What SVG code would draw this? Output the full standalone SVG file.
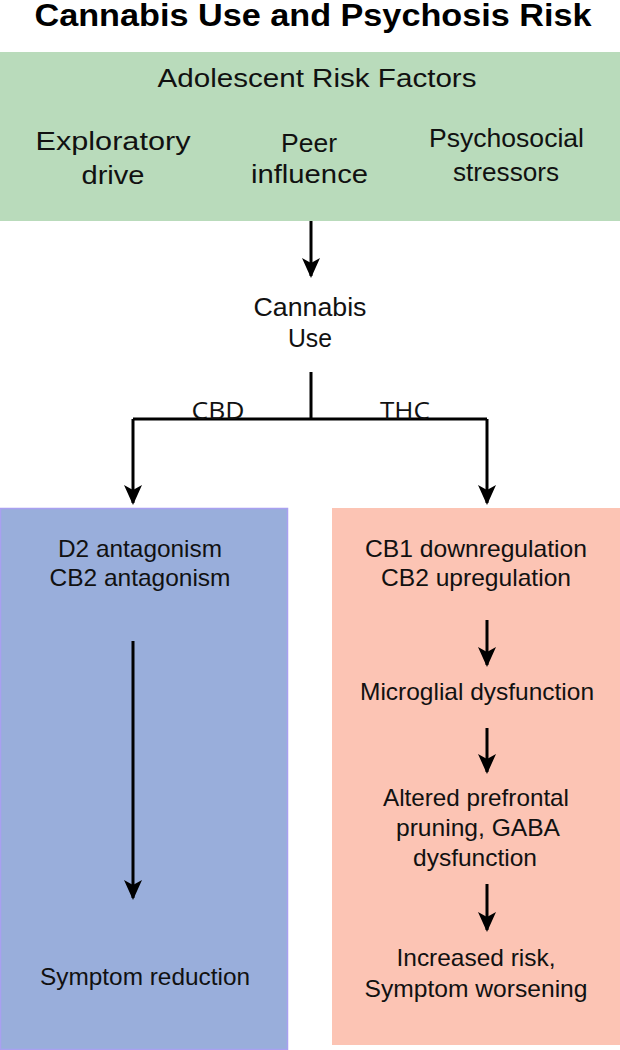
<svg xmlns="http://www.w3.org/2000/svg" width="620" height="1050" viewBox="0 0 620 1050">
<style>
.t{font-family:"Liberation Sans",Arial,sans-serif;font-size:24px;fill:#111;text-anchor:middle}
.h{font-size:25px}
.c{font-size:25px}
.lbl{font-family:"Open Sans","DejaVu Sans",sans-serif;font-size:23px;fill:#111;text-anchor:middle}
.ln{stroke:#000;stroke-width:3;fill:none}
</style>
<defs>
<marker id="ah" viewBox="0 0 20 20" refX="18" refY="10" markerWidth="20" markerHeight="20" markerUnits="userSpaceOnUse" orient="auto">
<path d="M0,1 L20,10 L0,19 L5,10 Z" fill="#000"/>
</marker>
</defs>
<rect width="620" height="1050" fill="#fff"/>
<text x="313" y="26" font-family="Liberation Sans,Arial,sans-serif" font-weight="bold" font-size="31" text-anchor="middle" fill="#000" textLength="557" lengthAdjust="spacingAndGlyphs">Cannabis Use and Psychosis Risk</text>
<g id="risk">
<rect x="0" y="52" width="620" height="169" fill="#b9dbbb"/>
<text class="t h" x="317" y="87" textLength="319" lengthAdjust="spacingAndGlyphs">Adolescent Risk Factors</text>
<text class="t h" x="113" y="150" textLength="155" lengthAdjust="spacingAndGlyphs">Exploratory</text>
<text class="t h" x="113" y="184" textLength="63" lengthAdjust="spacingAndGlyphs">drive</text>
<text class="t h" x="309" y="152" textLength="56" lengthAdjust="spacingAndGlyphs">Peer</text>
<text class="t h" x="309.5" y="183" textLength="117" lengthAdjust="spacingAndGlyphs">influence</text>
<text class="t h" x="506.5" y="147" textLength="155" lengthAdjust="spacingAndGlyphs">Psychosocial</text>
<text class="t h" x="506" y="181" textLength="106" lengthAdjust="spacingAndGlyphs">stressors</text>
</g>
<g id="cannabis">
<text class="t c" x="310" y="316" textLength="113" lengthAdjust="spacingAndGlyphs">Cannabis</text>
<text class="t c" x="310" y="347" textLength="44" lengthAdjust="spacingAndGlyphs">Use</text>
</g>
<g id="cbd">
<rect x="0.5" y="508.5" width="287" height="541" fill="#99aedb" stroke="#a9a0f0" stroke-width="1.5"/>
<text class="t" x="140" y="557" textLength="164" lengthAdjust="spacingAndGlyphs">D2 antagonism</text>
<text class="t" x="140" y="586" textLength="181" lengthAdjust="spacingAndGlyphs">CB2 antagonism</text>
<text class="t" x="145" y="985" textLength="210" lengthAdjust="spacingAndGlyphs">Symptom reduction</text>
</g>
<g id="thc">
<rect x="332" y="508" width="288" height="537" fill="#fcc4b4"/>
<text class="t" x="476" y="557" textLength="222" lengthAdjust="spacingAndGlyphs">CB1 downregulation</text>
<text class="t" x="476" y="586" textLength="190" lengthAdjust="spacingAndGlyphs">CB2 upregulation</text>
<text class="t" x="477" y="700" textLength="234" lengthAdjust="spacingAndGlyphs">Microglial dysfunction</text>
<text class="t" x="476" y="806" textLength="186" lengthAdjust="spacingAndGlyphs">Altered prefrontal</text>
<text class="t" x="478" y="836" textLength="164" lengthAdjust="spacingAndGlyphs">pruning, GABA</text>
<text class="t" x="475" y="866" textLength="124" lengthAdjust="spacingAndGlyphs">dysfunction</text>
<text class="t" x="476" y="966" textLength="159" lengthAdjust="spacingAndGlyphs">Increased risk,</text>
<text class="t" x="476" y="997" textLength="223" lengthAdjust="spacingAndGlyphs">Symptom worsening</text>
</g>
<g id="connectors">
<line class="ln" x1="311" y1="221" x2="311" y2="276" marker-end="url(#ah)"/>
<path class="ln" d="M311,372 V419 M133,419 H487"/>
<line class="ln" x1="133" y1="419" x2="133" y2="503" marker-end="url(#ah)"/>
<line class="ln" x1="487" y1="419" x2="487" y2="503" marker-end="url(#ah)"/>
<text class="lbl" x="218" y="419" textLength="53" lengthAdjust="spacingAndGlyphs">CBD</text>
<text class="lbl" x="405" y="419" textLength="50" lengthAdjust="spacingAndGlyphs">THC</text>
<line class="ln" x1="133" y1="641" x2="133" y2="898" marker-end="url(#ah)"/>
<line class="ln" x1="487" y1="620" x2="487" y2="665" marker-end="url(#ah)"/>
<line class="ln" x1="487" y1="728" x2="487" y2="772" marker-end="url(#ah)"/>
<line class="ln" x1="487" y1="884" x2="487" y2="930" marker-end="url(#ah)"/>
</g>
</svg>
